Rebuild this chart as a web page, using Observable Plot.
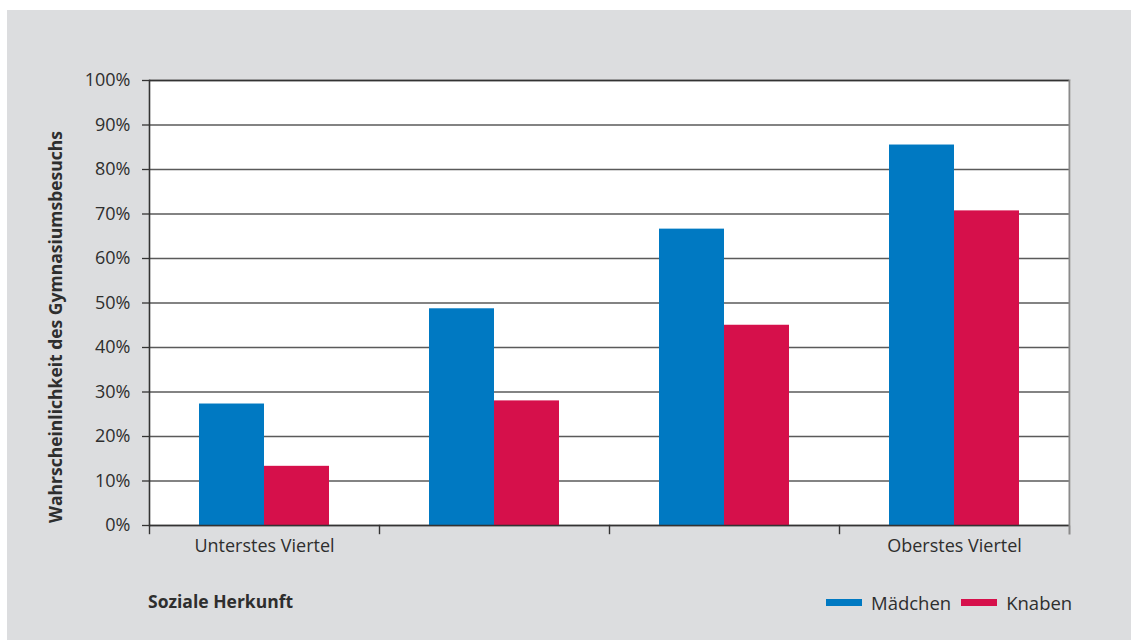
<!DOCTYPE html>
<html>
<head>
<meta charset="utf-8">
<script src="https://cdn.jsdelivr.net/npm/d3@7"></script>
<script src="https://cdn.jsdelivr.net/npm/@observablehq/plot@0.6"></script>
<style>
  html, body { margin: 0; padding: 0; background: #ffffff; }
  body { width: 1131px; height: 641px; position: relative; overflow: hidden; font-family: "Open Sans", sans-serif; color: #2e2e2e; }
  #panel { position: absolute; left: 7px; top: 10px; width: 1124px; height: 630px; background: #dcdddf; }
  #chart { position: absolute; left: 0; top: 0; }
  #xtitle { position: absolute; left: 141px; top: 579px; font-size: 17.5px; font-weight: bold; }
  #legend { position: absolute; left: 819px; top: 580px; display: flex; align-items: center; font-size: 18.5px; }
  #legend .sw { width: 36px; height: 7px; display: inline-block; margin-right: 9px; }
  #legend .item { display: flex; align-items: center; margin-right: 10px; }
</style>
</head>
<body>
<div id="panel">
  <div id="chart"></div>
  <div id="xtitle"></div>
  <div id="legend"></div>
</div>
<script>
// ---- data ----
const groups = ["Q1", "Q2", "Q3", "Q4"];
const groupLabels = ["Unterstes Viertel", "", "", "Oberstes Viertel"];
const series = ["Mädchen", "Knaben"];
const maedchen = [0.273, 0.487, 0.666, 0.855];
const knaben = [0.133, 0.280, 0.450, 0.707];
const seriesColors = ["#0079c2", "#d6104b"];
const yTicks = [0, 0.1, 0.2, 0.3, 0.4, 0.5, 0.6, 0.7, 0.8, 0.9, 1.0];
const yTitle = "Wahrscheinlichkeit des Gymnasiumsbesuchs";
const xTitle = "Soziale Herkunft";

// ---- table ----
const rows = [];
groups.forEach((g, i) => {
  rows.push({group: g, series: series[0], value: maedchen[i]});
  rows.push({group: g, series: series[1], value: knaben[i]});
});
const labelOf = Object.fromEntries(groups.map((g, i) => [g, groupLabels[i]]));

// ---- layout ----
const W = 1124, H = 570;
const mTop = 70, mBottom = 55, mLeft = 141, mRight = 62;
const innerH = H - mTop - mBottom;
const tickLen = 8;
const textColor = "#2e2e2e";

const chart = Plot.plot({
  width: W,
  height: H,
  marginTop: mTop,
  marginBottom: mBottom,
  marginLeft: mLeft,
  marginRight: mRight,
  style: {background: "transparent", fontFamily: "Open Sans, sans-serif", color: textColor},
  fx: {domain: groups, padding: 0, axis: null, label: null},
  x: {domain: series, paddingInner: 0, paddingOuter: 0.745, axis: null, label: null},
  y: {domain: [0, 1], axis: null, label: null},
  color: {domain: series, range: seriesColors},
  marks: [
    Plot.frame({fill: "white", stroke: null, insetRight: -1.5}),
    Plot.gridY(yTicks, {stroke: "#5a5a5a", strokeOpacity: 1, strokeWidth: 1.3}),
    Plot.ruleY([1], {stroke: "#333", strokeWidth: 1.6}),
    Plot.barY(rows, {fx: "group", x: "series", y: "value", fill: "series"}),
    Plot.ruleY([0], {stroke: "#333", strokeWidth: 1.6}),
    Plot.frame({anchor: "left", facetAnchor: "left", stroke: "#333", strokeWidth: 1.6}),
    Plot.frame({anchor: "right", facetAnchor: "right", stroke: "#8a8a8a", strokeWidth: 2, insetBottom: -tickLen}),
    Plot.frame({anchor: "left", stroke: "#333", strokeWidth: 1.4, insetTop: innerH, insetBottom: -tickLen}),
    Plot.axisY({ticks: yTicks, tickFormat: d3.format(".0%"), tickSize: 7, tickPadding: 12,
      fontSize: 18, stroke: "#333", strokeWidth: 1.3, fill: textColor, label: null}),
    Plot.axisFx({anchor: "bottom", tickSize: 0, tickPadding: 14, fontSize: 18, fill: textColor,
      tickFormat: (g) => labelOf[g], label: null}),
    Plot.text([yTitle], {frameAnchor: "left", facetAnchor: "left", text: (d) => d, rotate: -90,
      textAnchor: "middle", dx: -93, dy: 24, fontSize: 17.5, fontWeight: "bold", fill: textColor})
  ]
});
document.getElementById("chart").appendChild(chart);

document.getElementById("xtitle").textContent = xTitle;
const legend = document.getElementById("legend");
series.forEach((s, i) => {
  const item = document.createElement("span");
  item.className = "item";
  const sw = document.createElement("span");
  sw.className = "sw";
  sw.style.background = seriesColors[i];
  item.appendChild(sw);
  item.appendChild(document.createTextNode(s));
  legend.appendChild(item);
});
</script>
</body>
</html>
